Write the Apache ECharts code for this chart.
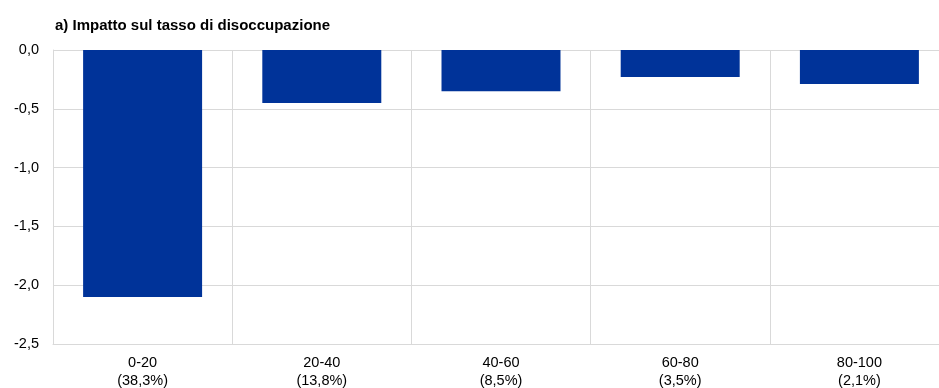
<!DOCTYPE html>
<html>
<head>
<meta charset="utf-8">
<script src="https://cdn.jsdelivr.net/npm/echarts@6/dist/echarts.min.js"></script>
<style>html,body{margin:0;padding:0;background:#fff;overflow:hidden}#c{width:949px;height:392px}</style>
</head>
<body>
<div id="c"></div>
<script>
var title = 'a) Impatto sul tasso di disoccupazione';
var categories = ['0-20', '20-40', '40-60', '60-80', '80-100'];
var shares = ['(38,3%)', '(13,8%)', '(8,5%)', '(3,5%)', '(2,1%)'];
var values = [-2.1, -0.45, -0.35, -0.23, -0.29];
var yTicks = [-2.5, -2.0, -1.5, -1.0, -0.5, 0.0];

var chart = echarts.init(document.getElementById('c'), null, {renderer: 'canvas'});
var labels = categories.map(function (c, i) { return c + '\n' + shares[i]; });
chart.setOption({
  animation: false,
  backgroundColor: '#ffffff',
  title: {
    text: title, left: 50, top: 13,
    textStyle: {fontFamily: 'Liberation Sans, Arial', fontSize: 15, fontWeight: 'bold', color: '#000'}
  },
  grid: {left: 53, right: 0, top: 50, bottom: 48, containLabel: false, outerBoundsMode: 'none'},
  xAxis: {
    type: 'category', data: labels, position: 'bottom',
    axisLine: {show: true, onZero: false, lineStyle: {color: '#d9d9d9', width: 1}},
    axisTick: {show: false},
    splitLine: {show: true, lineStyle: {color: '#d9d9d9', width: 1}},
    axisLabel: {fontFamily: 'Liberation Sans, Arial', fontSize: 14.5, color: '#000', lineHeight: 18, margin: 10, interval: 0}
  },
  yAxis: {
    type: 'value', min: yTicks[0], max: yTicks[yTicks.length - 1], interval: 0.5,
    axisLine: {show: true, lineStyle: {color: '#d9d9d9'}},
    axisTick: {show: false},
    splitLine: {show: true, lineStyle: {color: '#d9d9d9', width: 1}},
    axisLabel: {
      fontFamily: 'Liberation Sans, Arial', fontSize: 14.5, color: '#000', margin: 14,
      formatter: function (v) { return v.toFixed(1).replace('.', ','); }
    }
  },
  series: [{
    type: 'bar', data: values, barWidth: '66.4%',
    itemStyle: {color: '#003399'}
  }]
});
</script>
</body>
</html>
